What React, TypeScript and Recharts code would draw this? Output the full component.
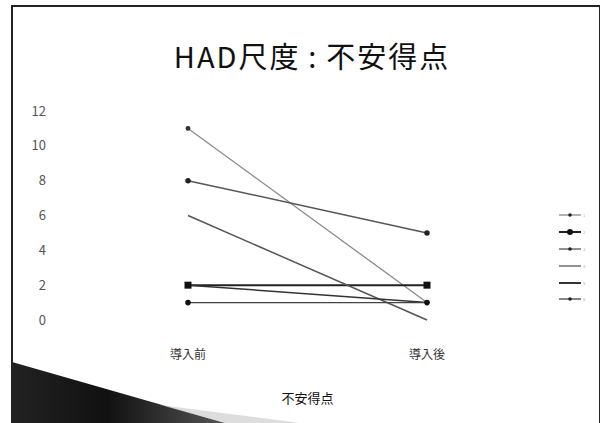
import React from 'react';
import { LineChart, Line, XAxis, YAxis, Legend } from 'recharts';

const categories = ['導入前', '導入後'];
const s1 = [11, 1];
const s2 = [2, 2];
const s3 = [8, 5];
const s4 = [6, 0];
const s5 = [2, 1];
const s6 = [1, 1];
const yTicks = [0, 2, 4, 6, 8, 10, 12];
// legend marker kinds, same order as the series
const legendMarks = ['dot', 'big', 'dot', 'none', 'none', 'dot'];

const data = categories.map((name, i) => ({
  name,
  '1': s1[i],
  '2': s2[i],
  '3': s3[i],
  '4': s4[i],
  '5': s5[i],
  '6': s6[i],
}));

const SquareDot = (props: any) => {
  const { cx, cy } = props;
  if (cx == null || cy == null) return null;
  return <rect x={cx - 3.5} y={cy - 3.5} width={7} height={7} fill="#111" />;
};

const FONT = '"Noto Sans CJK JP", "Noto Sans", sans-serif';

const LegendContent = (props: any) => {
  const { payload } = props;
  return (
    <div>
      {(payload || []).map((p: any, i: number) => (
        <div key={p.value} style={{ height: 16.8, display: 'flex', alignItems: 'center' }}>
          <svg width={24} height={8}>
            <line x1={0} y1={4} x2={22} y2={4} stroke={p.color} strokeWidth={i === 1 || i === 4 ? 2 : 1.3} />
            {legendMarks[i] === 'dot' && <circle cx={11} cy={4} r={1.8} fill="#222" />}
            {legendMarks[i] === 'big' && <circle cx={11} cy={4} r={3} fill="#111" />}
          </svg>
          <span style={{ fontSize: 4, color: '#aaa' }}>{p.value}</span>
        </div>
      ))}
    </div>
  );
};

const App: React.FC = () => {
  return (
    <div style={{ position: 'absolute', left: 0, top: 0, width: 600, height: 423, background: '#fff', overflow: 'hidden', fontFamily: FONT }}>
      <div style={{ position: 'absolute', left: 11, top: 5, width: 586, height: 430, borderLeft: '2px solid #222', borderTop: '2px solid #222', borderRight: '2px solid #222' }} />
      <div style={{ position: 'absolute', left: 12, top: 34, width: 600, textAlign: 'center', fontSize: 29, color: '#111', letterSpacing: 2 }}>
        HAD尺度{'\u2009'}:{'\u2009'}不安得点
      </div>
      <div style={{ position: 'absolute', left: 0, top: 0 }}>
        <LineChart width={600} height={423} data={data} margin={{ top: 111, right: 53, bottom: 23, left: 8 }}>
          <XAxis
            dataKey="name"
            padding={{ left: 120, right: 120 }}
            axisLine={false}
            tickLine={false}
            tickMargin={24}
            height={80}
            tick={{ fontSize: 12, fill: '#333', fontFamily: FONT }}
            label={{ value: '不安得点', position: 'insideBottom', offset: -3, fontSize: 13, fill: '#111', fontFamily: FONT }}
          />
          <YAxis
            domain={[0, 12]}
            ticks={yTicks}
            axisLine={false}
            tickLine={false}
            tickMargin={16}
            width={60}
            tick={{ fontSize: 13, fill: '#555', fontFamily: FONT }}
          />
          <Legend
            layout="vertical"
            align="center"
            verticalAlign="middle"
            content={<LegendContent />}
            wrapperStyle={{ left: 559, top: 207, width: 36 }}
          />
          <Line dataKey="1" stroke="#8a8a8a" strokeWidth={1.3} dot={{ r: 1.8, fill: '#333', stroke: '#333' }} isAnimationActive={false} />
          <Line dataKey="2" stroke="#222" strokeWidth={2} dot={<SquareDot />} isAnimationActive={false} />
          <Line dataKey="3" stroke="#555" strokeWidth={1.5} dot={{ r: 2, fill: '#222', stroke: '#222' }} isAnimationActive={false} />
          <Line dataKey="4" stroke="#555" strokeWidth={1.5} dot={false} isAnimationActive={false} />
          <Line dataKey="5" stroke="#333" strokeWidth={1.5} dot={false} isAnimationActive={false} />
          <Line dataKey="6" stroke="#444" strokeWidth={1.2} dot={{ r: 2.2, fill: '#111', stroke: '#111' }} isAnimationActive={false} />
        </LineChart>
      </div>
      <svg style={{ position: 'absolute', left: 0, top: 0 }} width={600} height={423}>
        <defs>
          <linearGradient id="shade" x1="0" y1="0" x2="1" y2="0">
            <stop offset="0%" stopColor="#222" />
            <stop offset="45%" stopColor="#111" />
            <stop offset="100%" stopColor="#555" />
          </linearGradient>
        </defs>
        <polygon points="12,362 225,423 12,423" fill="url(#shade)" />
        <polygon points="160,405 300,423 225,423" fill="#bbb" opacity={0.5} />
      </svg>
    </div>
  );
};

export default App;
